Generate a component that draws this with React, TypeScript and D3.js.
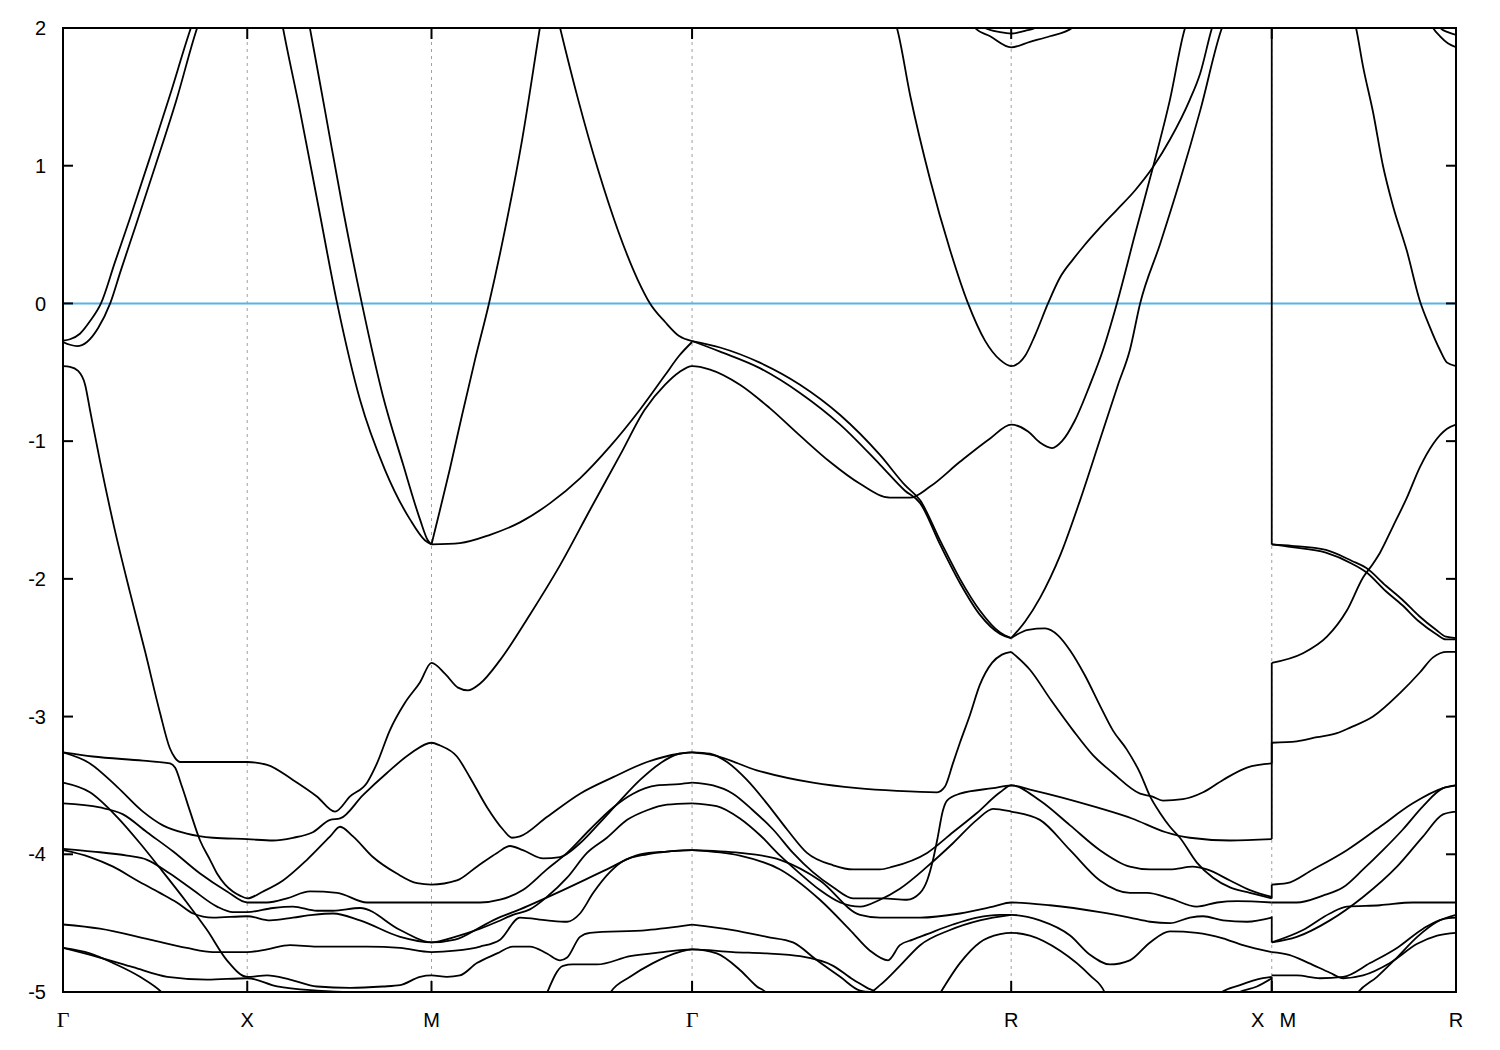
import React from "react";
import * as d3 from "d3";

// High-symmetry path (k in 2π/a units, cumulative path length)
const kTicks = [0, 0.5, 1.0, 1.7071, 2.5731, 3.2802, 3.7802];
const kLabelNames = ["Γ", "X", "M", "Γ", "R", "X", "M", "R"];
const kLabelPos = [0, 0.5, 1.0, 1.7071, 2.5731, 3.2802, 3.2802, 3.7802];
const eTicks = [2, 1, 0, -1, -2, -3, -4, -5];
const kXM = 3.2802;

// Bands: [k, E (eV)]
const band01 = [[0,-0.27],[0.019,-0.26],[0.046,-0.22],[0.073,-0.13],[0.103,0.0],[0.141,0.30],[0.182,0.62],[0.236,1.06],[0.290,1.51],[0.347,2.0],[0.36,2.1]];
const band02 = [[0,-0.28],[0.019,-0.30],[0.038,-0.31],[0.065,-0.28],[0.095,-0.18],[0.128,0.0],[0.157,0.24],[0.198,0.57],[0.252,1.01],[0.307,1.47],[0.364,2.0],[0.377,2.1]];
const band03 = [[0,-0.455],[0.019,-0.46],[0.041,-0.49],[0.060,-0.59],[0.073,-0.77],[0.100,-1.14],[0.141,-1.65],[0.182,-2.10],[0.223,-2.53],[0.263,-2.97],[0.290,-3.23],[0.304,-3.30],[0.318,-3.33],[0.399,-3.33],[0.5,-3.33],[0.554,-3.35],[0.624,-3.46],[0.689,-3.58],[0.738,-3.69],[0.779,-3.58],[0.825,-3.48],[0.852,-3.34],[0.887,-3.10],[0.928,-2.90],[0.969,-2.75],[1.0,-2.61],[1.037,-2.69],[1.072,-2.79],[1.099,-2.81],[1.132,-2.76],[1.186,-2.59],[1.267,-2.26],[1.349,-1.90],[1.430,-1.50],[1.512,-1.10],[1.579,-0.77],[1.634,-0.59],[1.672,-0.50],[1.7071,-0.455],[1.756,-0.48],[1.837,-0.59],[1.918,-0.76],[2.0,-0.96],[2.081,-1.15],[2.163,-1.31],[2.244,-1.41],[2.299,-1.41],[2.353,-1.33],[2.434,-1.15],[2.516,-0.98],[2.5731,-0.88],[2.619,-0.93],[2.651,-1.01],[2.684,-1.05],[2.711,-1.00],[2.746,-0.85],[2.787,-0.59],[2.822,-0.34],[2.860,0.0],[2.909,0.50],[2.958,0.99],[3.004,1.48],[3.045,2.0],[3.06,2.1]];
const band04 = [[1.0,-1.75],[1.023,-1.50],[1.050,-1.20],[1.083,-0.81],[1.118,-0.41],[1.156,0.0],[1.199,0.53],[1.246,1.19],[1.294,2.0],[1.30,2.1]];
const band05 = [[0.59,2.1],[0.597,2.0],[0.643,1.40],[0.692,0.72],[0.744,0.0],[0.806,-0.70],[0.874,-1.21],[0.942,-1.57],[0.982,-1.72],[1.0,-1.75]];
const band06 = [[0.663,2.1],[0.670,2.0],[0.711,1.40],[0.760,0.68],[0.811,0.0],[0.868,-0.67],[0.923,-1.17],[0.969,-1.57],[0.990,-1.72],[1.0,-1.75]];
const band07 = [[1.0,-1.75],[1.077,-1.74],[1.159,-1.68],[1.240,-1.59],[1.322,-1.45],[1.403,-1.27],[1.484,-1.04],[1.566,-0.77],[1.634,-0.52],[1.672,-0.38],[1.7071,-0.28]];
const band08 = [[1.34,2.1],[1.349,2.0],[1.398,1.48],[1.452,0.97],[1.506,0.53],[1.560,0.17],[1.593,0.0],[1.634,-0.135],[1.672,-0.237],[1.7071,-0.273]];
const band09 = [[1.7071,-0.273],[1.783,-0.32],[1.891,-0.43],[2.0,-0.59],[2.109,-0.81],[2.217,-1.10],[2.285,-1.32],[2.326,-1.43],[2.380,-1.72],[2.434,-2.00],[2.488,-2.23],[2.543,-2.39],[2.5731,-2.43]];
const band10 = [[1.7071,-0.273],[1.783,-0.35],[1.891,-0.47],[2.0,-0.65],[2.109,-0.88],[2.217,-1.17],[2.285,-1.36],[2.326,-1.45],[2.380,-1.75],[2.434,-2.03],[2.488,-2.26],[2.543,-2.40],[2.5731,-2.43]];
const band11 = [[2.25,2.1],[2.263,2.0],[2.299,1.51],[2.353,0.90],[2.407,0.39],[2.456,0.0],[2.502,-0.27],[2.543,-0.41],[2.5731,-0.455],[2.611,-0.38],[2.638,-0.23],[2.673,0.0],[2.706,0.19],[2.741,0.32],[2.768,0.41],[2.814,0.55],[2.860,0.68],[2.909,0.82],[2.958,0.99],[3.004,1.19],[3.058,1.48],[3.086,1.67],[3.118,2.0],[3.13,2.1]];
const band12 = [[2.5731,-2.43],[2.611,-2.31],[2.651,-2.14],[2.706,-1.83],[2.760,-1.43],[2.814,-0.99],[2.863,-0.59],[2.895,-0.34],[2.923,0.0],[2.977,0.43],[3.031,0.89],[3.086,1.40],[3.145,2.0],[3.16,2.1]];
const band13 = [[2.5731,-2.43],[2.619,-2.37],[2.665,-2.36],[2.700,-2.41],[2.733,-2.52],[2.773,-2.70],[2.814,-2.92],[2.849,-3.10],[2.887,-3.24],[2.923,-3.41],[2.950,-3.58],[2.977,-3.70],[3.004,-3.80],[3.031,-3.88],[3.077,-4.06],[3.121,-4.17],[3.167,-4.24],[3.221,-4.28],[3.2802,-4.32]];
const band14 = [[2.5731,-2.53],[2.624,-2.66],[2.681,-2.88],[2.741,-3.10],[2.795,-3.28],[2.849,-3.41],[2.923,-3.56],[2.955,-3.58],[2.985,-3.61],[3.039,-3.60],[3.094,-3.55],[3.148,-3.46],[3.213,-3.37],[3.2802,-3.34]];
const band15 = [[1.7071,-3.26],[1.764,-3.28],[1.883,-3.39],[2.035,-3.48],[2.155,-3.52],[2.263,-3.54],[2.372,-3.55],[2.393,-3.51],[2.415,-3.34],[2.434,-3.19],[2.461,-2.99],[2.488,-2.77],[2.521,-2.61],[2.548,-2.55],[2.5731,-2.53]];
const bandG1 = [[0,-3.26],[0.081,-3.29],[0.217,-3.32],[0.290,-3.34],[0.304,-3.37],[0.323,-3.51],[0.345,-3.69],[0.372,-3.90],[0.399,-4.04],[0.418,-4.14],[0.440,-4.22],[0.461,-4.27],[0.480,-4.30],[0.5,-4.32],[0.543,-4.27],[0.597,-4.19],[0.662,-4.04],[0.725,-3.87],[0.752,-3.80],[0.787,-3.87],[0.841,-4.02],[0.906,-4.14],[0.961,-4.21],[1.0,-4.22],[1.069,-4.19],[1.123,-4.09],[1.178,-3.99],[1.213,-3.94],[1.248,-3.97],[1.303,-4.03],[1.349,-4.02],[1.403,-3.92],[1.457,-3.77],[1.512,-3.61],[1.566,-3.46],[1.620,-3.34],[1.672,-3.27],[1.7071,-3.26]];
const bandG3 = [[0,-3.26],[0.073,-3.34],[0.147,-3.51],[0.217,-3.69],[0.271,-3.79],[0.336,-3.85],[0.407,-3.88],[0.5,-3.89],[0.570,-3.90],[0.624,-3.88],[0.678,-3.84],[0.725,-3.75],[0.752,-3.74],[0.814,-3.57],[0.879,-3.41],[0.942,-3.27],[1.0,-3.19],[1.023,-3.21],[1.069,-3.29],[1.104,-3.44],[1.151,-3.66],[1.194,-3.82],[1.218,-3.88],[1.240,-3.87],[1.313,-3.73],[1.403,-3.56],[1.493,-3.44],[1.585,-3.33],[1.672,-3.27],[1.7071,-3.26]];
const bandG4 = [[0,-3.48],[0.073,-3.55],[0.147,-3.73],[0.209,-3.92],[0.263,-4.10],[0.336,-4.35],[0.391,-4.55],[0.445,-4.77],[0.5,-4.89],[0.554,-4.88],[0.616,-4.91],[0.689,-4.96],[0.779,-4.97],[0.868,-4.96],[0.915,-4.95],[0.969,-4.89],[1.0,-4.88],[1.042,-4.89],[1.077,-4.88],[1.123,-4.79],[1.178,-4.72],[1.221,-4.67],[1.267,-4.67],[1.313,-4.72],[1.349,-4.77],[1.368,-4.75],[1.403,-4.60],[1.430,-4.57],[1.585,-4.55],[1.7071,-4.51]];
const bandG5 = [[0,-3.63],[0.100,-3.66],[0.163,-3.71],[0.228,-3.84],[0.299,-3.98],[0.372,-4.14],[0.445,-4.27],[0.5,-4.35],[0.554,-4.35],[0.608,-4.32],[0.670,-4.27],[0.744,-4.28],[0.825,-4.35],[0.915,-4.35],[1.0,-4.35],[1.077,-4.35],[1.132,-4.35],[1.186,-4.33],[1.248,-4.26],[1.313,-4.11],[1.368,-3.99],[1.430,-3.82],[1.493,-3.66],[1.547,-3.56],[1.612,-3.50],[1.672,-3.49],[1.7071,-3.48]];
const bandG6 = [[0,-3.96],[0.081,-3.98],[0.174,-4.01],[0.228,-4.04],[0.290,-4.14],[0.353,-4.26],[0.418,-4.38],[0.461,-4.42],[0.5,-4.42],[0.570,-4.39],[0.624,-4.38],[0.689,-4.41],[0.733,-4.41],[0.806,-4.39],[0.915,-4.55],[1.0,-4.64],[1.064,-4.60],[1.132,-4.54],[1.178,-4.49],[1.221,-4.44],[1.267,-4.40],[1.313,-4.31],[1.368,-4.17],[1.422,-3.99],[1.476,-3.88],[1.531,-3.75],[1.585,-3.68],[1.639,-3.64],[1.7071,-3.63]];
const bandG7 = [[0,-3.97],[0.073,-4.02],[0.136,-4.09],[0.201,-4.19],[0.263,-4.28],[0.309,-4.35],[0.353,-4.43],[0.407,-4.46],[0.5,-4.45],[0.562,-4.48],[0.624,-4.46],[0.678,-4.44],[0.733,-4.43],[0.806,-4.48],[0.915,-4.60],[1.0,-4.64],[1.064,-4.62],[1.132,-4.53],[1.167,-4.48],[1.240,-4.40],[1.357,-4.26],[1.476,-4.11],[1.566,-4.00],[1.639,-3.98],[1.7071,-3.97]];
const bandG9 = [[0,-4.51],[0.100,-4.54],[0.236,-4.62],[0.336,-4.68],[0.407,-4.71],[0.5,-4.71],[0.554,-4.69],[0.616,-4.66],[0.689,-4.67],[0.825,-4.67],[0.915,-4.68],[1.0,-4.71],[1.064,-4.70],[1.132,-4.67],[1.186,-4.62],[1.240,-4.46],[1.313,-4.48],[1.368,-4.49],[1.403,-4.43],[1.439,-4.28],[1.484,-4.13],[1.519,-4.05],[1.585,-4.00],[1.639,-3.98],[1.7071,-3.97]];
const bandG10 = [[0,-4.68],[0.100,-4.75],[0.190,-4.82],[0.283,-4.89],[0.391,-4.91],[0.5,-4.90],[0.581,-4.96],[0.689,-4.99],[0.779,-5.0],[0.915,-5.0],[1.045,-5.01],[1.1,-5.05]];
const bandG11 = [[0,-4.68],[0.073,-4.72],[0.136,-4.79],[0.209,-4.89],[0.271,-5.01],[0.30,-5.1]];
const bandG12 = [[1.30,-5.1],[1.313,-5.01],[1.357,-4.81],[1.384,-4.80],[1.449,-4.80],[1.539,-4.74],[1.628,-4.71],[1.7071,-4.69],[1.818,-4.71],[1.910,-4.72],[2.0,-4.74],[2.090,-4.81],[2.144,-4.91],[2.182,-4.97],[2.209,-5.01],[2.23,-5.1]];
const bandG13 = [[1.47,-5.1],[1.484,-5.01],[1.539,-4.89],[1.601,-4.79],[1.672,-4.71],[1.7071,-4.69],[1.774,-4.72],[1.837,-4.84],[1.883,-4.96],[1.910,-5.01],[1.93,-5.1]];
const bandD1 = [[1.7071,-3.26],[1.756,-3.27],[1.802,-3.33],[1.856,-3.46],[1.910,-3.63],[1.965,-3.82],[2.019,-3.99],[2.090,-4.08],[2.144,-4.11],[2.217,-4.11],[2.252,-4.09],[2.345,-3.99],[2.415,-3.84],[2.480,-3.70],[2.543,-3.55],[2.5731,-3.50],[2.624,-3.53],[2.714,-3.59],[2.806,-3.66],[2.901,-3.74],[2.993,-3.84],[3.058,-3.88],[3.167,-3.90],[3.2802,-3.89]];
const bandD2 = [[1.7071,-3.48],[1.764,-3.50],[1.818,-3.56],[1.872,-3.68],[1.927,-3.82],[1.981,-3.99],[2.035,-4.13],[2.090,-4.24],[2.144,-4.32],[2.225,-4.32],[2.290,-4.33],[2.326,-4.28],[2.345,-4.19],[2.361,-4.04],[2.372,-3.90],[2.388,-3.68],[2.399,-3.61],[2.434,-3.56],[2.524,-3.52],[2.5731,-3.50],[2.651,-3.61],[2.733,-3.79],[2.814,-3.97],[2.895,-4.09],[2.950,-4.11],[3.004,-4.11],[3.066,-4.09],[3.104,-4.11],[3.167,-4.19],[3.221,-4.26],[3.2802,-4.31]];
const bandD3 = [[1.7071,-3.63],[1.774,-3.65],[1.837,-3.74],[1.891,-3.86],[1.946,-4.01],[2.0,-4.14],[2.054,-4.26],[2.109,-4.35],[2.163,-4.38],[2.217,-4.33],[2.271,-4.25],[2.345,-4.09],[2.415,-3.92],[2.480,-3.75],[2.524,-3.67],[2.5731,-3.69],[2.651,-3.75],[2.733,-3.97],[2.814,-4.19],[2.895,-4.28],[2.942,-4.28],[3.004,-4.32],[3.077,-4.38],[3.132,-4.35],[3.186,-4.34],[3.2802,-4.35]];
const bandD4 = [[1.7071,-3.97],[1.837,-3.99],[1.946,-4.04],[2.054,-4.19],[2.163,-4.44],[2.217,-4.46],[2.326,-4.46],[2.434,-4.43],[2.524,-4.38],[2.5731,-4.35],[2.678,-4.37],[2.814,-4.42],[2.895,-4.46],[2.950,-4.49],[3.004,-4.50],[3.058,-4.46],[3.094,-4.45],[3.148,-4.48],[3.213,-4.49],[3.2802,-4.46]];
const bandD5 = [[1.7071,-3.97],[1.837,-4.01],[1.946,-4.11],[2.054,-4.33],[2.136,-4.55],[2.190,-4.70],[2.239,-4.77],[2.271,-4.66],[2.306,-4.62],[2.345,-4.58],[2.415,-4.51],[2.480,-4.46],[2.543,-4.44],[2.5731,-4.44],[2.651,-4.48],[2.733,-4.59],[2.787,-4.73],[2.841,-4.80],[2.895,-4.77],[2.950,-4.64],[3.004,-4.56],[3.077,-4.57],[3.148,-4.61],[3.202,-4.66],[3.2802,-4.71]];
const bandD6 = [[1.7071,-4.51],[1.818,-4.55],[1.910,-4.60],[1.981,-4.64],[2.046,-4.77],[2.109,-4.89],[2.163,-4.99],[2.190,-5.00],[2.217,-4.95],[2.271,-4.81],[2.326,-4.66],[2.407,-4.55],[2.488,-4.48],[2.5731,-4.44]];
const bandD8 = [[2.36,-5.1],[2.380,-5.01],[2.434,-4.79],[2.488,-4.64],[2.543,-4.58],[2.5731,-4.57],[2.624,-4.59],[2.706,-4.70],[2.787,-4.88],[2.828,-5.01],[2.84,-5.1]];
const bandRX1 = [[3.13,-5.1],[3.140,-5.01],[3.194,-4.95],[3.256,-4.90],[3.2802,-4.89]];
const bandRX2 = [[3.17,-5.1],[3.186,-5.01],[3.240,-4.96],[3.2802,-4.90]];
const bandT1 = [[2.46,2.1],[2.475,2.0],[2.516,1.94],[2.5731,1.86],[2.624,1.90],[2.678,1.94],[2.738,2.0],[2.75,2.1]];
const bandT2 = [[2.49,2.1],[2.502,2.0],[2.543,1.97],[2.5731,1.96],[2.611,1.98],[2.638,2.0],[2.65,2.1]];
const bandMR1 = [[3.2802,-1.75],[3.335,-1.76],[3.427,-1.79],[3.498,-1.87],[3.536,-1.92],[3.590,-2.05],[3.634,-2.15],[3.680,-2.27],[3.726,-2.37],[3.753,-2.42],[3.7802,-2.43]];
const bandMR1b = [[3.2802,-1.75],[3.335,-1.77],[3.427,-1.81],[3.498,-1.89],[3.536,-1.95],[3.590,-2.09],[3.634,-2.19],[3.680,-2.31],[3.726,-2.40],[3.753,-2.44],[3.7802,-2.44]];
const bandMR2 = [[3.2802,-2.61],[3.365,-2.54],[3.430,-2.42],[3.484,-2.23],[3.528,-1.99],[3.555,-1.89],[3.574,-1.81],[3.609,-1.62],[3.647,-1.41],[3.682,-1.19],[3.718,-1.02],[3.756,-0.91],[3.7802,-0.88]];
const bandMR3 = [[3.2802,-3.19],[3.348,-3.18],[3.403,-3.15],[3.457,-3.12],[3.493,-3.08],[3.555,-3.00],[3.628,-2.83],[3.682,-2.68],[3.718,-2.57],[3.756,-2.53],[3.7802,-2.53]];
const bandMR4 = [[3.2802,-4.22],[3.321,-4.21],[3.392,-4.11],[3.484,-3.97],[3.574,-3.80],[3.663,-3.63],[3.745,-3.52],[3.7802,-3.50]];
const bandMR5 = [[3.2802,-4.35],[3.348,-4.35],[3.419,-4.30],[3.474,-4.24],[3.528,-4.11],[3.582,-3.97],[3.636,-3.82],[3.691,-3.65],[3.745,-3.52],[3.7802,-3.50]];
const bandMR6 = [[3.2802,-4.64],[3.348,-4.60],[3.438,-4.48],[3.528,-4.31],[3.620,-4.09],[3.691,-3.87],[3.745,-3.71],[3.7802,-3.69]];
const bandMR7 = [[3.2802,-4.64],[3.365,-4.55],[3.438,-4.43],[3.484,-4.38],[3.574,-4.37],[3.663,-4.35],[3.7802,-4.35]];
const bandMR8 = [[3.2802,-4.88],[3.348,-4.88],[3.411,-4.90],[3.474,-4.89],[3.547,-4.79],[3.620,-4.68],[3.691,-4.54],[3.745,-4.47],[3.7802,-4.46]];
const bandMR9 = [[3.2802,-4.71],[3.327,-4.73],[3.381,-4.79],[3.438,-4.86],[3.474,-4.90],[3.528,-4.88],[3.601,-4.79],[3.675,-4.65],[3.729,-4.59],[3.7802,-4.57]];
const bandMR10 = [[3.49,-5.1],[3.512,-5.01],[3.566,-4.89],[3.620,-4.75],[3.675,-4.60],[3.729,-4.49],[3.7802,-4.44]];
const bandMR11 = [[3.50,2.1],[3.509,2.0],[3.528,1.72],[3.555,1.39],[3.582,1.00],[3.609,0.71],[3.647,0.38],[3.682,0.02],[3.709,-0.17],[3.737,-0.34],[3.756,-0.43],[3.7802,-0.455]];
const bandMR12 = [[3.70,2.1],[3.718,2.0],[3.737,1.94],[3.758,1.89],[3.7802,1.86]];
const bandMR13 = [[3.72,2.1],[3.737,2.0],[3.758,1.97],[3.7802,1.95]];

// band discontinuities at the X|M break: [E at X, E at M]
const xmJumps = [[2.1, -1.75], [-3.34, -2.61], [-3.89, -3.19], [-4.32, -4.22], [-4.45, -4.64], [-4.89, -5.1]];

const bands = [band01, band02, band03, band04, band05, band06, band07, band08, band09, band10, band11, band12, band13, band14, band15,
  bandG1, bandG3, bandG4, bandG5, bandG6, bandG7, bandG9, bandG10, bandG11, bandG12, bandG13,
  bandD1, bandD2, bandD3, bandD4, bandD5, bandD6, bandD8, bandRX1, bandRX2, bandT1, bandT2,
  bandMR1, bandMR1b, bandMR2, bandMR3, bandMR4, bandMR5, bandMR6, bandMR7, bandMR8, bandMR9, bandMR10, bandMR11, bandMR12, bandMR13];

export default function App() {
  const W = 1500, H = 1050;
  const L = 63, R = 1456, T = 28, B = 992;
  const x = d3.scaleLinear().domain([0, 3.7802]).range([L, R]);
  const y = d3.scaleLinear().domain([-5, 2]).range([B, T]);
  const line = d3.line<number[]>().x(d => x(d[0])).y(d => y(d[1])).curve(d3.curveMonotoneX);
  const sans = "'Liberation Sans', Arial, sans-serif";
  const serif = "'Liberation Serif', 'Times New Roman', serif";
  return (
    <svg width={W} height={H} viewBox={`0 0 ${W} ${H}`} style={{ display: "block", position: "absolute", left: 0, top: 0, background: "#fff" }}>
      <defs>
        <clipPath id="plotclip"><rect x={L} y={T} width={R - L} height={B - T} /></clipPath>
      </defs>
      <rect x={0} y={0} width={W} height={H} fill="#fff" />
      {kTicks.slice(1, -1).map((k, i) => (
        <line key={"g" + i} x1={x(k)} x2={x(k)} y1={T} y2={B} stroke="#a0a0a0" strokeWidth={1} strokeDasharray="3,4" />
      ))}
      <line x1={L} x2={R} y1={y(0)} y2={y(0)} stroke="#56b4e9" strokeWidth={2} />
      <g clipPath="url(#plotclip)" fill="none" stroke="#000" strokeWidth={1.8} strokeLinejoin="round">
        {bands.map((b, i) => <path key={"b" + i} d={line(b as number[][]) || ""} />)}
        {xmJumps.map((j, i) => (
          <line key={"j" + i} x1={x(kXM)} x2={x(kXM)} y1={y(j[0])} y2={y(j[1])} />
        ))}
      </g>
      <rect x={L} y={T} width={R - L} height={B - T} fill="none" stroke="#000" strokeWidth={2} />
      {eTicks.map((e, i) => (
        <g key={"y" + i}>
          <line x1={L} x2={L + 10} y1={y(e)} y2={y(e)} stroke="#000" strokeWidth={2} />
          <line x1={R - 10} x2={R} y1={y(e)} y2={y(e)} stroke="#000" strokeWidth={2} />
          <text x={46} y={y(e)} dy="0.36em" textAnchor="end" fontFamily={sans} fontSize={20}>{e}</text>
        </g>
      ))}
      {kTicks.map((k, i) => (
        <g key={"x" + i}>
          <line x1={x(k)} x2={x(k)} y1={B} y2={B - 11} stroke="#000" strokeWidth={2} />
          <line x1={x(k)} x2={x(k)} y1={T} y2={T + 11} stroke="#000" strokeWidth={2} />
        </g>
      ))}
      {kLabelNames.map((n, i) => {
        const off = i === 5 ? -14 : i === 6 ? 16 : 0;
        return (
          <text key={"l" + i} x={x(kLabelPos[i]) + off} y={1027} textAnchor="middle"
            fontFamily={n === "Γ" ? serif : sans} fontSize={n === "Γ" ? 22 : 20}>{n}</text>
        );
      })}
    </svg>
  );
}
